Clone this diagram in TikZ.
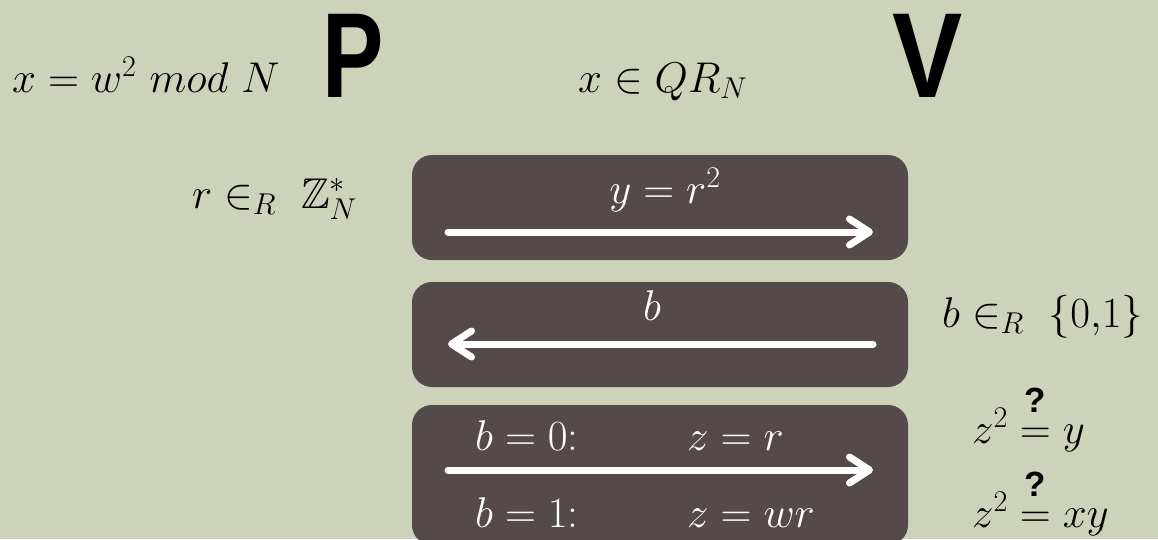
\RequirePackage{fix-cm}
\documentclass[tikz,border=0pt]{standalone}
\usepackage{amsmath,amssymb}
\usepackage{fontspec}
\newfontfamily\heavy{Liberation Sans}
\usetikzlibrary{arrows.meta}
\definecolor{bgc}{HTML}{CCD3BA}
\definecolor{boxc}{HTML}{534A49}
\newcommand{\qeq}{\mathrel{\overset{\raisebox{7pt}{\heavy\bfseries\fontsize{35}{35}\selectfont ?}}{=}}}
\tikzset{
  mth/.style={font=\fontsize{43}{50}\selectfont, inner sep=0pt, anchor=base west, text=black},
  wmth/.style={mth, text=white},
  party/.style={font=\heavy\bfseries\fontsize{121}{121}\selectfont, inner sep=0pt, anchor=base west},
  msgbox/.style={fill=boxc, rounded corners=20pt, inner sep=0pt, draw=none},
  msg/.style={white, line width=7pt, line cap=round, -{Straight Barb[length=20pt,width=26pt,line cap=round,round]}}
}
\begin{document}
\begin{tikzpicture}[x=1pt,y=-1pt]
\fill[bgc] (0,0) rectangle (1158,539);
\useasboundingbox (0,0) rectangle (1158,539);
\clip (0,0) rectangle (1158,539);
% parties
\node[party] (P) at (322,97) {\scalebox{0.76}[1]{P}};
\node[party] (V) at (892,97) {\scalebox{0.87}[1]{V}};
% top row
\node[mth] (xw) at (12,92) {$x = w^2\ mod\ N$};
\node[mth] (xqr) at (578,92) {$x \in QR_N$};
% boxes
\node[msgbox, minimum width=496pt, minimum height=105pt] (m1) at (660,207.5) {};
\node[msgbox, minimum width=496pt, minimum height=105pt] (m2) at (660,334.5) {};
\node[msgbox, minimum width=496pt, minimum height=140pt] (m3) at (660,475) {};
% arrows
\coordinate (a1s) at (448,232); \coordinate (a1e) at (873,232);
\coordinate (a2s) at (873,344); \coordinate (a2e) at (448,344);
\coordinate (a3s) at (448,470); \coordinate (a3e) at (873,470);
\draw[msg] (a1s) -- (a1e);
\draw[msg] (a2s) -- (a2e);
\draw[msg] (a3s) -- (a3e);
% box texts
\node[wmth, anchor=base] (t1) at (665,203) {$y = r^2$};
\node[wmth, anchor=base] (t2) at (652,320) {$b$};
\node[wmth] (t3a) at (475,450) {$b = 0$:};
\node[wmth] (t3b) at (687,450) {$z = r$};
\node[wmth] (t4a) at (475,527) {$b = 1$:};
\node[wmth] (t4b) at (687,527) {$z = wr$};
% side texts
\node[mth] (rz) at (192,208) {$r \in_R\ \mathbb{Z}_N^*$};
\node[mth] (br) at (942,327) {$b \in_R\ \{0{,}1\}$};
\node[mth] (c1) at (972,443) {$z^2 \qeq y$};
\node[mth] (c2) at (972,527) {$z^2 \qeq xy$};
\end{tikzpicture}
\end{document}
